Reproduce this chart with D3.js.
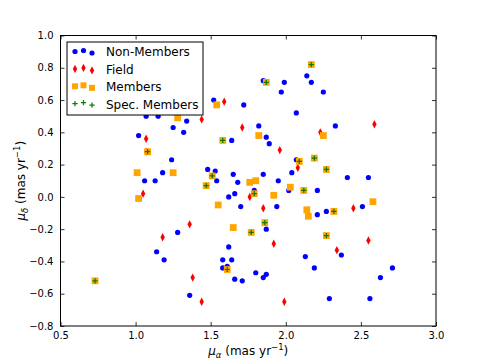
<!DOCTYPE html>
<html>
<head>
<meta charset="utf-8">
<script src="https://cdn.jsdelivr.net/npm/d3@7"></script>
<style>
  body { margin: 0; background: #fff; }
  svg text { font-family: "DejaVu Sans", sans-serif; fill: #000; }
</style>
</head>
<body>
<div class="chart"></div>
<script>
// proper motions (mas/yr)
const nonMembersX = [1.07, 1.15, 1.25, 1.34, 1.52, 1.72, 1.85, 1.99, 1.97, 2.14, 2.07, 1.82, 2.17, 2.25, 2.33,
    1.32, 1.02, 1.24, 1.18, 1.06, 1.13, 1.87, 1.64, 1.89, 2.07, 1.48, 1.53, 2.04, 1.65, 1.85, 1.54, 1.68,
    1.95, 1.79, 2.02, 1.66, 1.62, 1.70, 1.94, 1.87, 2.41, 2.55, 2.21, 2.51, 2.27, 2.21, 1.28, 1.14, 1.19,
    1.36, 1.62, 1.58, 1.64, 1.58, 1.61, 2.13, 1.80, 1.87, 1.85, 1.66, 1.71, 2.37, 2.19, 2.71, 2.63, 2.29, 2.56]
const nonMembersY = [0.50, 0.50, 0.43, 0.47, 0.60, 0.57, 0.72, 0.71, 0.65, 0.75, 0.52, 0.44, 0.71, 0.65, 0.44,
    0.40, 0.38, 0.23, 0.15, 0.10, 0.10, 0.37, 0.35, 0.33, 0.23, 0.17, 0.16, 0.15, 0.14, 0.14, 0.10, 0.09,
    0.10, 0.04, 0.04, 0.02, 0.00, -0.06, -0.06, -0.20, 0.12, 0.12, 0.04, -0.06, -0.09, -0.11, -0.22, -0.34, -0.39,
    -0.61, -0.31, -0.39, -0.39, -0.44, -0.43, -0.37, -0.47, -0.48, -0.50, -0.51, -0.52, -0.36, -0.44, -0.44, -0.50, -0.63, -0.63]

const fieldX = [1.59, 1.44, 1.71, 2.59, 2.23, 1.07, 1.07, 1.05, 1.96, 2.08, 1.76, 1.85, 2.45, 1.36, 1.18,
    1.92, 1.38, 1.44, 1.99, 2.55, 2.34]
const fieldY = [0.59, 0.48, 0.43, 0.45, 0.40, 0.36, 0.28, 0.02, 0.29, 0.18, 0.00, -0.07, -0.07, -0.17, -0.25,
    -0.29, -0.50, -0.65, -0.65, -0.27, -0.33]

const membersX = [1.28, 1.54, 2.25, 1.01, 1.25, 1.02, 1.82, 1.76, 1.80, 2.03, 1.92, 1.55, 2.14, 2.15, 1.65, 2.58,
    2.17, 1.87, 1.08, 1.58, 2.09, 1.51, 1.47, 2.12, 1.79, 1.86, 2.19, 2.27, 2.32, 0.73, 1.77, 1.61, 2.27]
const membersY = [0.49, 0.57, 0.38, 0.15, 0.15, -0.01, 0.38, 0.09, 0.10, 0.06, 0.01, -0.05, -0.08, -0.12, -0.19, -0.03,
    0.82, 0.71, 0.28, 0.35, 0.22, 0.13, 0.07, 0.04, 0.02, -0.16, 0.24, 0.17, -0.09, -0.52, -0.22, -0.45, -0.24]

const specX = [2.17, 1.87, 1.08, 1.58, 2.09, 1.51, 1.47, 2.12, 1.79, 1.86, 2.19, 2.27, 2.32, 0.73, 1.77, 1.61, 2.27]
const specY = [0.82, 0.71, 0.28, 0.35, 0.22, 0.13, 0.07, 0.04, 0.02, -0.16, 0.24, 0.17, -0.09, -0.52, -0.22, -0.45, -0.24]

const xTicks = [0.5, 1.0, 1.5, 2.0, 2.5, 3.0]
const yTicks = [-0.8, -0.6, -0.4, -0.2, 0.0, 0.2, 0.4, 0.6, 0.8, 1.0]

const seriesNames = ["Non-Members", "Field", "Members", "Spec. Members"]

const width = 485, height = 363
const margin = {left: 60.5, top: 35.5, right: 49, bottom: 37}
const plotW = width - margin.left - margin.right
const plotH = height - margin.top - margin.bottom

const x = d3.scaleLinear().domain([0.5, 3.0]).range([0, plotW])
const y = d3.scaleLinear().domain([-0.8, 1.0]).range([plotH, 0])

const fmt = d => d3.format(".1f")(d).replace("-", "\u2212")

const svg = d3.select("div.chart").append("svg")
    .attr("width", width)
    .attr("height", height)

const g = svg.append("g")
    .attr("transform", `translate(${margin.left},${margin.top})`)

const zip = (xs, ys) => xs.map((v, i) => ({x: v, y: ys[i]}))

// marker painters, each draws at (0,0)
const painters = {
    "Non-Members": sel => sel.append("circle").attr("r", 2.6).attr("fill", "#0000ff"),
    "Field": sel => sel.append("path").attr("d", "M0,-4.2L2.2,0L0,4.2L-2.2,0Z").attr("fill", "#ff0000"),
    "Members": sel => sel.append("rect").attr("x", -3.4).attr("y", -3.4).attr("width", 6.8).attr("height", 6.8)
        .attr("fill", "#ffa500"),
    "Spec. Members": sel => sel.append("path").attr("d", "M-2.6,0H2.6M0,-2.6V2.6")
        .attr("stroke", "#008000").attr("stroke-width", 1.2).attr("fill", "none")
}

const seriesData = {
    "Non-Members": zip(nonMembersX, nonMembersY),
    "Field": zip(fieldX, fieldY),
    "Members": zip(membersX, membersY),
    "Spec. Members": zip(specX, specY)
}

seriesNames.forEach(name => {
    const pts = g.append("g").selectAll("g")
        .data(seriesData[name])
        .enter().append("g")
        .attr("transform", d => `translate(${x(d.x)},${y(d.y)})`)
    painters[name](pts)
})

// axes: ticks inside, on all four sides
const axisBottom = d3.axisBottom(x).tickValues(xTicks).tickSize(-4).tickPadding(7).tickFormat(fmt)
const axisTop = d3.axisTop(x).tickValues(xTicks).tickSize(-4).tickFormat("")
const axisLeft = d3.axisLeft(y).tickValues(yTicks).tickSize(-4).tickPadding(7).tickFormat(fmt)
const axisRight = d3.axisRight(y).tickValues(yTicks).tickSize(-4).tickFormat("")

const gb = g.append("g").attr("transform", `translate(0,${plotH})`).call(axisBottom)
g.append("g").call(axisTop)
const gl = g.append("g").call(axisLeft)
g.append("g").attr("transform", `translate(${plotW},0)`).call(axisRight)

g.selectAll(".domain").remove()
g.selectAll(".tick line").attr("stroke", "#000").attr("stroke-width", 0.8)
g.selectAll(".tick text").attr("font-size", 10).attr("font-family", "DejaVu Sans")
gb.selectAll(".tick text").attr("dy", "0.6em")

g.append("rect")
    .attr("width", plotW).attr("height", plotH)
    .attr("fill", "none").attr("stroke", "#000").attr("stroke-width", 1)

// axis labels
const xl = svg.append("text")
    .attr("x", margin.left + plotW / 2).attr("y", 355)
    .attr("text-anchor", "middle").attr("font-size", 12)
xl.append("tspan").attr("font-style", "italic").text("\u03bc")
xl.append("tspan").attr("font-style", "italic").attr("font-size", 8.5).attr("dy", 3).text("\u03b1")
xl.append("tspan").attr("dy", -3).text(" (mas yr")
xl.append("tspan").attr("font-size", 8.5).attr("dy", -5).text("\u22121")
xl.append("tspan").attr("dy", 5).text(")")

const yl = svg.append("text")
    .attr("transform", `translate(25,${margin.top + plotH / 2}) rotate(-90)`)
    .attr("text-anchor", "middle").attr("font-size", 12)
yl.append("tspan").attr("font-style", "italic").text("\u03bc")
yl.append("tspan").attr("font-style", "italic").attr("font-size", 8.5).attr("dy", 3).text("\u03b4")
yl.append("tspan").attr("dy", -3).text(" (mas yr")
yl.append("tspan").attr("font-size", 8.5).attr("dy", -5).text("\u22121")
yl.append("tspan").attr("dy", 5).text(")")

// legend
const legend = svg.append("g").attr("transform", "translate(67,42)")
legend.append("rect")
    .attr("width", 136).attr("height", 73)
    .attr("fill", "#fff").attr("stroke", "#000").attr("stroke-width", 1)

const jitter = [-0.5, -1.5, 1]
seriesNames.forEach((name, i) => {
    const row = legend.append("g").attr("transform", `translate(0,${10 + i * 17.4})`)
    const marks = row.selectAll("g").data([8, 16.5, 25]).enter().append("g")
        .attr("transform", (d, j) => `translate(${d},${jitter[j]})`)
    painters[name](marks)
    if (name === "Members") {
        marks.select("rect").attr("x", -3).attr("y", -3).attr("width", 6).attr("height", 6)
    }
    row.append("text")
        .attr("x", 39).attr("y", 0).attr("dy", "0.36em")
        .attr("font-size", 12)
        .text(name)
})
</script>
</body>
</html>
